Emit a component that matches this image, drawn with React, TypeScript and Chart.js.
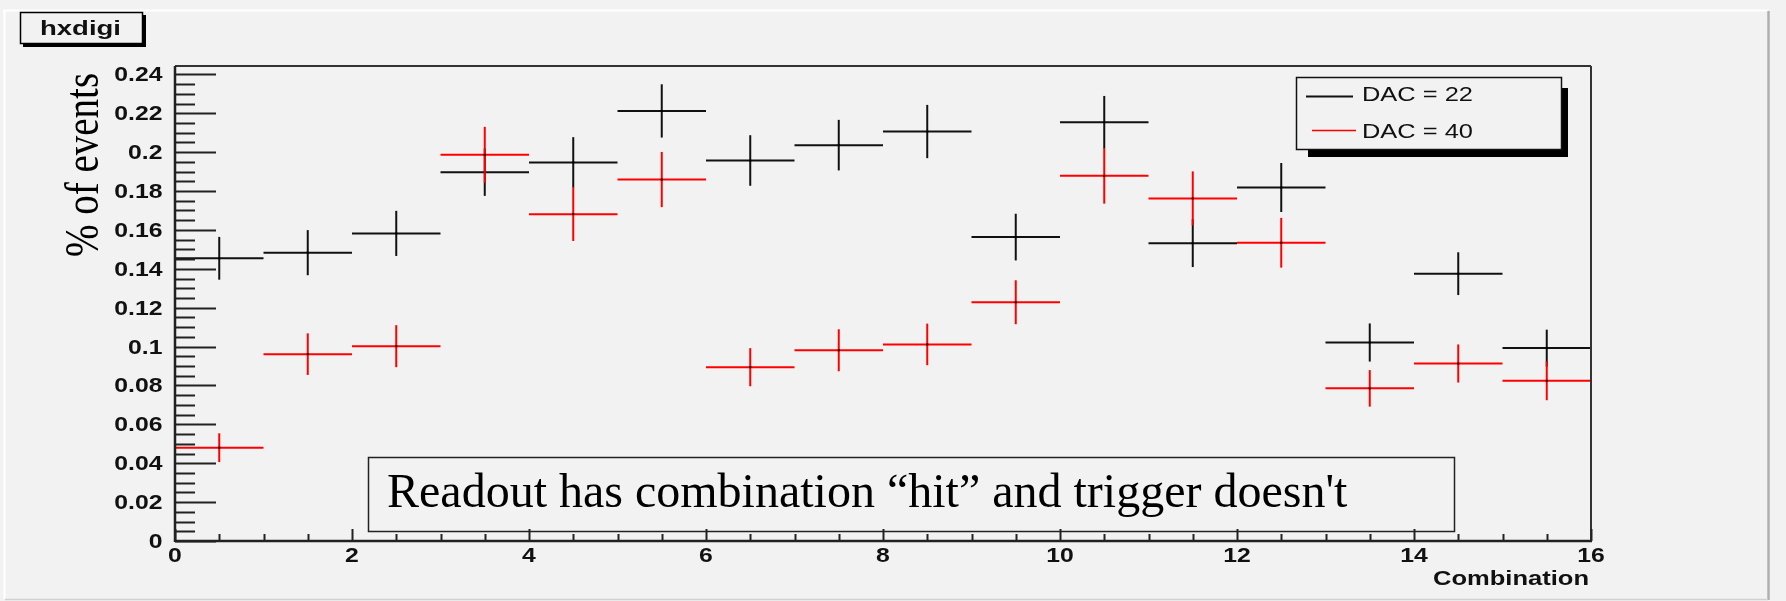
import { useEffect, useRef } from "react";
import { Chart, registerables } from "chart.js";

Chart.register(...registerables);

// ---- data ----
const binCenters = [0.5, 1.5, 2.5, 3.5, 4.5, 5.5, 6.5, 7.5, 8.5, 9.5, 10.5, 11.5, 12.5, 13.5, 14.5, 15.5];
const binHalfWidth = 0.5;
const dac22 = [0.1454, 0.1483, 0.1582, 0.1897, 0.1947, 0.2212, 0.1957, 0.2036, 0.2106, 0.1563, 0.2154, 0.1532, 0.1818, 0.1021, 0.1375, 0.0992];
const dac22Err = [0.011, 0.0116, 0.0116, 0.0122, 0.013, 0.0137, 0.013, 0.013, 0.0137, 0.012, 0.0135, 0.0123, 0.0126, 0.0098, 0.011, 0.0095];
const dac40 = [0.048, 0.0961, 0.1002, 0.1986, 0.1681, 0.1859, 0.0894, 0.0981, 0.1011, 0.1228, 0.1878, 0.1762, 0.1534, 0.0785, 0.0913, 0.0824];
const dac40Err = [0.0074, 0.0107, 0.0108, 0.0144, 0.0138, 0.0142, 0.0098, 0.0108, 0.0107, 0.0113, 0.0143, 0.0139, 0.0128, 0.0094, 0.0098, 0.01];
const seriesLabels = ["DAC = 22", "DAC = 40"];
const seriesColors = ["#111111", "#ff0000"];

const yTickValues = [0, 0.02, 0.04, 0.06, 0.08, 0.1, 0.12, 0.14, 0.16, 0.18, 0.2, 0.22, 0.24];
const yTickLabels = ["0", "0.02", "0.04", "0.06", "0.08", "0.1", "0.12", "0.14", "0.16", "0.18", "0.2", "0.22", "0.24"];
const yMinorStep = 0.005;
const xTickValues = [0, 2, 4, 6, 8, 10, 12, 14, 16];
const xTickLabels = ["0", "2", "4", "6", "8", "10", "12", "14", "16"];
const xMinorStep = 0.5;

const histTitle = "hxdigi";
const xTitle = "Combination";
const yTitle = "% of events";
const noteText = "Readout has combination \u201Chit\u201D and trigger doesn't";

const BG = "#f2f2f2";
const SANS = "'Liberation Sans', Arial, Helvetica, sans-serif";
const SERIF = "'Liberation Serif', 'Times New Roman', serif";

function sText(ctx: CanvasRenderingContext2D, text: string, x: number, y: number, font: string, sx: number, align: CanvasTextAlign, color = "#000") {
  ctx.save();
  ctx.font = font;
  ctx.fillStyle = color;
  ctx.textAlign = align;
  ctx.textBaseline = "alphabetic";
  ctx.translate(x, y);
  ctx.scale(sx, 1);
  ctx.fillText(text, 0, 0);
  ctx.restore();
}

// draws text stretched horizontally so that it is `target` px wide
function fitText(ctx: CanvasRenderingContext2D, text: string, x: number, y: number, font: string, target: number, align: CanvasTextAlign, color = "#000") {
  ctx.save();
  ctx.font = font;
  const w = ctx.measureText(text).width || 1;
  ctx.restore();
  sText(ctx, text, x, y, font, target / w, align, color);
}

function line(ctx: CanvasRenderingContext2D, x0: number, y0: number, x1: number, y1: number, color: string, w: number) {
  ctx.beginPath();
  ctx.strokeStyle = color;
  ctx.lineWidth = w;
  ctx.moveTo(x0, y0);
  ctx.lineTo(x1, y1);
  ctx.stroke();
}

const rootPlugin = {
  id: "rootStyle",
  beforeDraw(chart: any) {
    const ctx: CanvasRenderingContext2D = chart.ctx;
    const W = chart.width;
    const H = chart.height;
    ctx.save();
    ctx.fillStyle = BG;
    ctx.fillRect(0, 0, W, H);
    // bevel of the canvas
    line(ctx, 3, 10.5, 1768, 10.5, "#ffffff", 2);
    line(ctx, 4.5, 10, 4.5, 599, "#ffffff", 2);
    line(ctx, 1768.5, 11, 1768.5, 600, "#b0b0b0", 2.5);
    line(ctx, 5, 599.5, 1768, 599.5, "#d0d0d0", 1.5);
    ctx.restore();
  },
  afterDatasetsDraw(chart: any) {
    const ctx: CanvasRenderingContext2D = chart.ctx;
    const xs = chart.scales.x;
    const ys = chart.scales.y;
    ctx.save();
    chart.data.datasets.forEach((ds: any) => {
      ds.data.forEach((p: any, i: number) => {
        const e = ds.errors[i];
        const xa = xs.getPixelForValue(p.x - binHalfWidth);
        const xb = xs.getPixelForValue(p.x + binHalfWidth);
        const xc = xs.getPixelForValue(p.x);
        const yc = ys.getPixelForValue(p.y);
        const ylo = ys.getPixelForValue(p.y - e);
        const yhi = ys.getPixelForValue(p.y + e);
        line(ctx, xa, yc, xb, yc, ds.borderColor, 2);
        line(ctx, xc, yhi, xc, ylo, ds.borderColor, 2);
        ctx.fillStyle = "#000";
        ctx.fillRect(xc - 1, yc - 1, 2, 2);
      });
    });
    ctx.restore();
  },
  afterDraw(chart: any) {
    const ctx: CanvasRenderingContext2D = chart.ctx;
    const xs = chart.scales.x;
    const ys = chart.scales.y;
    const { left, right, top, bottom } = chart.chartArea;
    ctx.save();

    // frame
    line(ctx, left, top, right, top, "#333", 2);
    line(ctx, right, top, right, bottom, "#333", 2);
    line(ctx, left, bottom, right + 1, bottom, "#222", 2.5);
    line(ctx, left, top, left, bottom + 1, "#222", 2.5);

    // y ticks
    const nMinorY = Math.round(0.24 / yMinorStep);
    for (let k = 0; k <= nMinorY; k++) {
      const v = k * yMinorStep;
      const py = Math.round(ys.getPixelForValue(v)) + 0.5;
      const major = k % 4 === 0;
      line(ctx, left, py, left + (major ? 41 : 20), py, "#222", 2);
    }
    yTickValues.forEach((v, i) => {
      const py = ys.getPixelForValue(v);
      sText(ctx, yTickLabels[i], 162.5, py + 7, `bold 19.5px ${SANS}`, 1.27, "right", "#111");
    });

    // x ticks
    const nMinorX = Math.round(16 / xMinorStep);
    for (let k = 0; k <= nMinorX; k++) {
      const v = k * xMinorStep;
      const px = Math.round(xs.getPixelForValue(v)) + 0.5;
      const major = k % 4 === 0;
      line(ctx, px, bottom, px, bottom - (major ? 12 : 7), "#222", 2);
    }
    xTickValues.forEach((v, i) => {
      const px = xs.getPixelForValue(v);
      sText(ctx, xTickLabels[i], px, 562, `bold 19.5px ${SANS}`, 1.27, "center", "#111");
    });

    // axis titles
    fitText(ctx, xTitle, 1589, 585, `bold 19.5px ${SANS}`, 156, "right", "#111");
    ctx.save();
    ctx.font = `39px ${SERIF}`;
    ctx.fillStyle = "#000";
    ctx.textAlign = "center";
    ctx.textBaseline = "alphabetic";
    ctx.translate(98, 165);
    ctx.scale(1.23, 1);
    ctx.rotate(-Math.PI / 2);
    ctx.fillText(yTitle, 0, 0);
    ctx.restore();

    // histogram title box
    ctx.fillStyle = "#000";
    ctx.fillRect(23, 15, 123, 32);
    ctx.fillStyle = BG;
    ctx.fillRect(20, 12, 123, 32);
    ctx.strokeStyle = "#000";
    ctx.lineWidth = 1.5;
    ctx.strokeRect(20.5, 12.5, 122, 31);
    fitText(ctx, histTitle, 40, 35, `bold 21px ${SANS}`, 81, "left", "#111");

    // legend
    ctx.fillStyle = "#000";
    ctx.fillRect(1308, 88, 260, 69);
    ctx.fillStyle = BG;
    ctx.fillRect(1296, 77, 266, 73);
    ctx.strokeStyle = "#111";
    ctx.lineWidth = 1.5;
    ctx.strokeRect(1296.5, 77.5, 265, 72);
    const ds = chart.data.datasets;
    line(ctx, 1306, 96.5, 1353, 96.5, ds[0].borderColor, 2);
    fitText(ctx, ds[0].label, 1362, 101, `21px ${SANS}`, 111, "left", "#111");
    line(ctx, 1312, 130.5, 1356, 130.5, ds[1].borderColor, 1.5);
    fitText(ctx, ds[1].label, 1362, 138, `21px ${SANS}`, 111, "left", "#111");

    // note box
    ctx.strokeStyle = "#222";
    ctx.lineWidth = 1.5;
    ctx.strokeRect(368.5, 457.5, 1086, 74);
    ctx.font = `48px ${SERIF}`;
    ctx.fillStyle = "#000";
    ctx.textAlign = "left";
    ctx.textBaseline = "alphabetic";
    ctx.fillText(noteText, 387, 507);

    ctx.restore();
  },
};

export default function App() {
  const ref = useRef<HTMLCanvasElement | null>(null);
  useEffect(() => {
    if (!ref.current) return;
    const chart = new Chart(ref.current, {
      type: "scatter",
      data: {
        datasets: [
          {
            label: seriesLabels[0],
            data: binCenters.map((x, i) => ({ x, y: dac22[i] })),
            errors: dac22Err,
            borderColor: seriesColors[0],
            backgroundColor: seriesColors[0],
            pointRadius: 0,
            showLine: false,
          } as any,
          {
            label: seriesLabels[1],
            data: binCenters.map((x, i) => ({ x, y: dac40[i] })),
            errors: dac40Err,
            borderColor: seriesColors[1],
            backgroundColor: seriesColors[1],
            pointRadius: 0,
            showLine: false,
          } as any,
        ],
      },
      options: {
        responsive: false,
        devicePixelRatio: 1,
        animation: false,
        layout: { padding: { left: 175, top: 66, right: 195, bottom: 60 } },
        scales: {
          x: { type: "linear", min: 0, max: 16, display: false },
          y: { type: "linear", min: 0, max: 0.2443, display: false },
        },
        plugins: { legend: { display: false }, tooltip: { enabled: false } },
      },
      plugins: [rootPlugin],
    });
    return () => chart.destroy();
  }, []);
  return (
    <div style={{ position: "fixed", left: 0, top: 0, width: 1786, height: 601 }}>
      <canvas ref={ref} width={1786} height={601} style={{ display: "block" }} />
    </div>
  );
}
